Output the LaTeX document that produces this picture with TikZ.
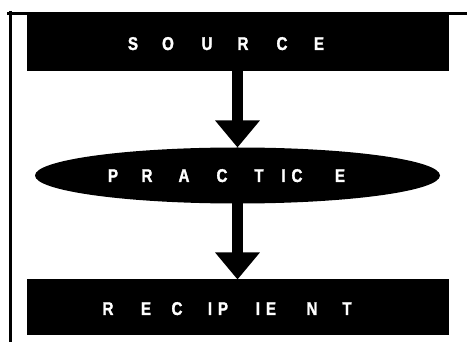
\documentclass[tikz,border=0pt]{standalone}
\usepackage{fontspec}
\newfontfamily\lblfont{Liberation Sans Bold}[FakeStretch=0.82,FakeBold=1.5]
\usetikzlibrary{arrows.meta,shapes.geometric}
\newcommand\lt[2]{\makebox[0pt]{#1}\hspace{#2pt}}
\begin{document}
\begin{tikzpicture}[x=1pt,y=-1pt,
  blackbox/.style={rectangle,fill=black,draw=none,inner sep=0,outer sep=0,minimum width=422pt,minimum height=56pt},
  blackoval/.style={ellipse,fill=black,draw=none,inner sep=0,outer sep=0,minimum width=405pt,minimum height=56pt},
  lbl/.style={text=white,inner sep=0,outer sep=0,anchor=base west,font=\lblfont\fontsize{18.5}{22}\selectfont},
  flow/.style={line width=11pt,-{Triangle[length=27pt,width=43pt]}},
  frame/.style={line width=3pt}]
\useasboundingbox (0,0) rectangle (467,342);
% frame lines
\coordinate (tl) at (7,13.5);
\coordinate (tr) at (467,13.5);
\coordinate (lt) at (10.5,11);
\coordinate (lb) at (10.5,342);
\draw[frame] (tl) -- (tr);
\draw[frame] (lt) -- (lb);
% shapes
\node[blackbox] (source) at (238,43) {};
\node[blackoval] (practice) at (237.5,175.5) {};
\node[blackbox] (recipient) at (238,307.5) {};
% labels
\node[lbl] (sourcetxt) at (133,50) {\lt{S}{35}\lt{O}{39}\lt{U}{36}\lt{R}{39}\lt{C}{37}\lt{E}{0}};
\node[lbl] (practicetxt) at (113,182) {\lt{P}{34}\lt{R}{37}\lt{A}{38}\lt{C}{37}\lt{T}{24.5}\lt{I}{13.5}\lt{C}{43}\lt{E}{0}};
\node[lbl] (recipienttxt) at (108,315) {\lt{R}{38}\lt{E}{31}\lt{C}{33}\lt{I}{13}\lt{P}{35}\lt{I}{13}\lt{E}{41}\lt{N}{35}\lt{T}{0}};
% connectors
\draw[flow] (source.south -| 237.5,0) -- (practice.north);
\draw[flow] (practice.south) -- (recipient.north -| 237.5,0);
\end{tikzpicture}
\end{document}
